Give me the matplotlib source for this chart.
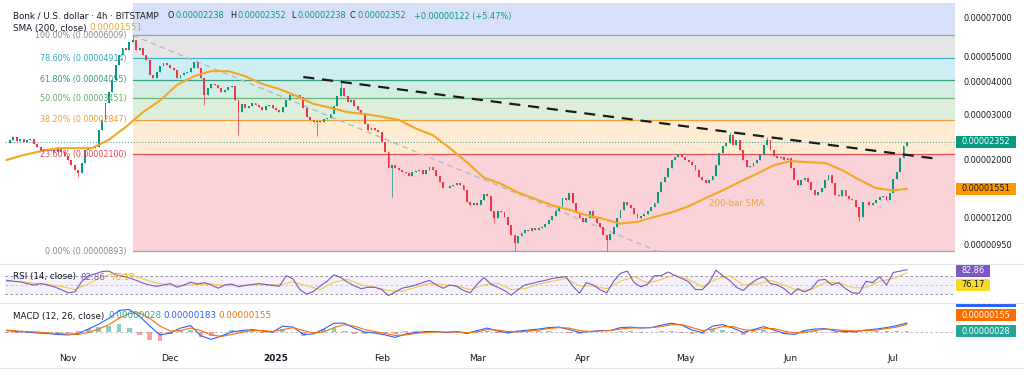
"""Bonk / U.S. dollar 4h chart: fibonacci levels, 200 SMA, RSI and MACD panels."""

import matplotlib
matplotlib.use("Agg")
import matplotlib.dates as mdates
import matplotlib.pyplot as plt
import numpy as np
import pandas as pd
from matplotlib.lines import Line2D
from matplotlib.patches import Rectangle
from matplotlib.ticker import NullLocator
from matplotlib.transforms import Bbox

START = "2024-10-14"

# daily closes, in 1e-5 USD (Oct 14 2024 -> Jul 5 2025)
close_e5 = [
    2.32, 2.39, 2.45, 2.37, 2.41, 2.34, 2.39, 2.41, 2.30, 2.24,
    2.16, 2.20, 2.16, 2.18, 2.14, 2.20, 2.14, 2.07, 2.00, 1.91,
    1.83, 1.78, 1.95, 2.18, 2.24, 2.22, 2.24, 2.61, 2.85, 3.31,
    3.64, 4.05, 4.62, 5.05, 5.38, 5.28, 5.67, 5.77, 5.28, 5.38,
    5.05, 4.83, 4.23, 4.12, 4.34, 4.58, 4.70, 4.62, 4.50, 4.42,
    4.12, 4.23, 4.31, 4.34, 4.50, 4.74, 4.50, 4.12, 3.55, 3.78,
    3.91, 3.88, 3.78, 3.64, 3.71, 3.81, 3.84, 3.40, 3.05, 3.28,
    3.17, 3.22, 3.31, 3.25, 3.20, 3.11, 3.22, 3.25, 3.17, 3.11,
    3.05, 3.20, 3.40, 3.55, 3.52, 3.55, 3.49, 3.17, 2.93, 2.85,
    2.80, 2.82, 2.80, 2.87, 2.90, 3.00, 3.22, 3.52, 3.78, 3.52,
    3.34, 3.40, 3.22, 3.11, 3.03, 2.75, 2.61, 2.66, 2.61, 2.55,
    2.35, 2.14, 1.86, 1.91, 1.86, 1.83, 1.80, 1.78, 1.73, 1.80,
    1.81, 1.83, 1.77, 1.83, 1.88, 1.83, 1.73, 1.64, 1.56, 1.56,
    1.59, 1.60, 1.63, 1.60, 1.53, 1.38, 1.34, 1.37, 1.34, 1.41,
    1.48, 1.46, 1.27, 1.20, 1.27, 1.26, 1.21, 1.13, 1.03, 0.96,
    1.02, 1.05, 1.08, 1.07, 1.10, 1.08, 1.10, 1.11, 1.14, 1.18,
    1.22, 1.28, 1.33, 1.43, 1.41, 1.50, 1.37, 1.26, 1.20, 1.16,
    1.20, 1.27, 1.20, 1.15, 1.11, 1.03, 0.99, 1.04, 1.11, 1.20,
    1.29, 1.38, 1.34, 1.31, 1.24, 1.20, 1.22, 1.24, 1.27, 1.32,
    1.37, 1.51, 1.65, 1.72, 1.86, 2.00, 2.05, 2.11, 2.05, 2.00,
    1.96, 1.91, 1.83, 1.72, 1.68, 1.63, 1.68, 1.73, 1.91, 2.13,
    2.26, 2.32, 2.49, 2.28, 2.39, 2.18, 2.00, 1.88, 1.89, 1.95,
    2.00, 2.09, 2.28, 2.39, 2.18, 2.07, 2.04, 2.05, 2.00, 2.04,
    1.86, 1.68, 1.60, 1.68, 1.71, 1.64, 1.53, 1.47, 1.51, 1.56,
    1.68, 1.75, 1.63, 1.47, 1.46, 1.53, 1.46, 1.42, 1.41, 1.32,
    1.21, 1.38, 1.38, 1.34, 1.37, 1.41, 1.44, 1.46, 1.41, 1.50,
    1.69, 1.80, 2.04, 2.26, 2.352,
]
spike_highs = {"2024-11-20": 6.01, "2025-01-20": 3.99, "2025-05-14": 2.56, "2025-05-25": 2.45}
spike_lows = {
    "2024-11-04": 1.72, "2024-12-11": 3.25, "2024-12-21": 2.49, "2025-01-13": 2.47,
    "2025-02-04": 1.44, "2025-03-06": 1.15, "2025-03-12": 0.90, "2025-04-08": 0.90,
    "2025-06-21": 1.17,
}

# 200-bar SMA every 5 days, plus the last bar (1e-5 USD)
sma_e5 = [
    2.00, 2.09, 2.16, 2.22, 2.22, 2.22, 2.39, 2.68, 3.05, 3.38,
    3.88, 4.19, 4.38, 4.38, 4.19, 3.91, 3.74, 3.52, 3.28, 3.17,
    3.05, 3.00, 2.93, 2.85, 2.64, 2.49, 2.22, 1.96, 1.71, 1.62,
    1.50, 1.42, 1.34, 1.29, 1.23, 1.19, 1.14, 1.16, 1.21, 1.26,
    1.33, 1.43, 1.53, 1.65, 1.77, 1.91, 1.98, 1.96, 1.95, 1.83,
    1.68, 1.56, 1.53, 1.551,
]

# RSI(14) every 2 days, its moving average every 4 days
rsi_vals = [
    60, 58, 57, 53, 50, 53, 50, 46, 40, 33,
    35, 57, 70, 74, 79, 80, 72, 69, 65, 60,
    54, 50, 47, 50, 53, 45, 50, 56, 52, 55,
    50, 43, 50, 52, 46, 49, 51, 53, 51, 49,
    47, 70, 63, 40, 30, 36, 48, 58, 72, 66,
    56, 48, 42, 45, 45, 40, 27, 35, 43, 46,
    50, 55, 60, 50, 43, 50, 47, 38, 33, 52,
    66, 52, 45, 38, 28, 40, 50, 53, 57, 60,
    64, 66, 68, 48, 32, 55, 50, 40, 33, 58,
    75, 80, 55, 46, 52, 70, 70, 78, 70, 64,
    57, 40, 40, 55, 82, 70, 60, 45, 38, 52,
    62, 68, 53, 50, 42, 29, 42, 35, 42, 60,
    62, 50, 55, 42, 33, 32, 58, 55, 68, 50,
    77, 80, 82.86,
]
rsi_ma_vals = [
    58, 57, 54, 51, 47, 40, 52, 68, 75, 72,
    63, 54, 50, 49, 51, 52, 49, 49, 50, 51,
    50, 57, 48, 40, 56, 62, 50, 45, 38, 36,
    45, 53, 51, 48, 40, 50, 54, 40, 42, 52,
    58, 64, 48, 48, 42, 58, 68, 54, 62, 72,
    62, 46, 62, 70, 50, 52, 60, 50, 38, 40,
    55, 55, 44, 44, 58, 64, 76.17,
]

# MACD(12, 26) and signal every 3 days, in 1e-6 USD
macd_e6 = [
    0.3, 0.1, 0.0, -0.2, -0.3, -0.5, -0.6, -0.3, 0.6, 1.6,
    2.8, 4.4, 4.6, 3.2, 1.2, -0.6, -0.2, 0.8, 1.3, -0.8,
    -1.5, -0.8, 0.0, 0.3, 0.5, 0.2, 0.0, 1.2, 1.0, -0.5,
    -0.4, 0.6, 1.8, 1.8, 0.8, 0.0, -0.2, -0.6, -1.1, -0.4,
    -0.1, 0.1, 0.1, -0.1, 0.1, -0.3, 0.3, 0.8, 0.2, -0.2,
    0.2, 0.4, 0.6, 0.9, 1.0, 0.5, -0.1, 0.1, 0.3, 0.3,
    0.9, 1.0, 0.8, 0.9, 1.4, 1.8, 1.4, 0.4, -0.1, 1.2,
    1.5, 0.8, -0.1, 0.5, 1.1, 0.4, -0.3, -0.5, 0.3, 0.6,
    0.7, 0.2, 0.1, 0.1, 0.4, 0.6, 0.9, 1.3, 1.83,
]
signal_e6 = [
    0.4, 0.2, 0.1, 0.0, -0.2, -0.3, -0.4, -0.5, -0.1, 0.6,
    1.5, 2.8, 3.8, 3.9, 2.8, 1.2, 0.2, 0.3, 0.8, 0.3,
    -0.6, -0.9, -0.5, -0.1, 0.3, 0.3, 0.1, 0.5, 0.9, 0.3,
    -0.2, 0.0, 0.9, 1.5, 1.2, 0.5, 0.1, -0.3, -0.7, -0.6,
    -0.3, -0.1, 0.0, 0.0, 0.0, -0.1, 0.0, 0.5, 0.4, 0.1,
    0.0, 0.2, 0.4, 0.7, 0.9, 0.8, 0.3, 0.1, 0.2, 0.3,
    0.6, 0.8, 0.9, 0.9, 1.1, 1.5, 1.5, 0.9, 0.3, 0.6,
    1.1, 1.1, 0.5, 0.3, 0.7, 0.7, 0.2, -0.2, -0.1, 0.3,
    0.6, 0.5, 0.3, 0.2, 0.3, 0.4, 0.7, 1.0, 1.55,
]

# fibonacci retracement drawn from the Nov 20 high to the low
fib_high = 6.009e-5
fib_low = 0.893e-5
fib_start = "2024-11-20"
fib_line_end = "2025-04-23"
fib_levels = [0.0, 0.236, 0.382, 0.5, 0.618, 0.786, 1.0, 1.618]
fib_names = ["0.00%", "23.60%", "38.20%", "50.00%", "61.80%", "78.60%", "100.00%"]

# descending resistance line
trend_dates = ["2025-01-09", "2025-07-14"]
trend_prices = [4.16e-5, 2.02e-5]

price_ticks = [7e-5, 5e-5, 4e-5, 3e-5, 2e-5, 1.2e-5, 0.95e-5]
month_ticks = ["2024-11-01", "2024-12-01", "2025-01-01", "2025-02-01", "2025-03-01",
               "2025-04-01", "2025-05-01", "2025-06-01", "2025-07-01"]
month_labels = ["Nov", "Dec", "2025", "Feb", "Mar", "Apr", "May", "Jun", "Jul"]

last_close = 2.352e-5
last_sma = 1.551e-5

W, H = 1024, 376
TXT = "#131722"
UP, DOWN = "#089981", "#F23645"
line_cols = ["#a0a0a0", "#e0535a", "#f0a23c", "#6cb87a", "#3a9e8f", "#3fb4c8", "#a0a0a0"]
label_cols = ["#8a8a8a", "#e04b53", "#f0a030", "#5faf6a", "#2e9c8a", "#30a9c0", "#8a8a8a"]
fill_cols = ["#f9d3d7", "#fdebd3", "#ddefda", "#d3ece4", "#cdeff3", "#e6e6e9", "#d6e0f8"]

plt.rcParams["font.family"] = "DejaVu Sans"


def fx(px):
    return px / W


def fy(py):
    return 1 - py / H


fig = plt.figure(figsize=(W / 100, H / 100), dpi=100)
fig.patch.set_facecolor("white")
ax = fig.add_axes([fx(5), fy(264), fx(950), 261 / H])
ax_rsi = fig.add_axes([fx(5), fy(303), fx(950), 39 / H], sharex=ax)
ax_macd = fig.add_axes([fx(5), fy(350), fx(950), 47 / H], sharex=ax)

t0 = pd.Timestamp(START)
xlim = (mdates.date2num(t0 - pd.Timedelta(hours=11)), mdates.date2num(t0 + pd.Timedelta(days=278.1)))

# ---- price panel ----
ax.set_yscale("log")
ax.set_xlim(*xlim)
ax.set_ylim(7.99e-6, 7.99e-5)

fib_prices = [fib_low + lv * (fib_high - fib_low) for lv in fib_levels]
xs = mdates.date2num(pd.Timestamp(fib_start))
for k in range(len(fib_levels) - 1):
    ax.fill_between([xs, xlim[1]], fib_prices[k], fib_prices[k + 1],
                    color=fill_cols[k], lw=0, zorder=0)
for k, name in enumerate(fib_names):
    p = fib_prices[k]
    ax.plot([xs, xlim[1]], [p, p], color=line_cols[k], lw=0.9, zorder=1)
    ax.annotate(f"{name} ({p:.8f})", (xs, p), xytext=(-4.3, 0), textcoords="offset points",
                ha="right", va="center", fontsize=5.8, color=label_cols[k], zorder=6)

ax.plot(pd.to_datetime([fib_start, fib_line_end]), [fib_high, fib_low],
        color="#b9b9bd", lw=1.0, ls=(0, (4, 3)), zorder=1.5)
ax.axhline(last_close, color="#3c8f80", lw=0.7, ls=(0, (1, 2)), zorder=2)

dates = pd.date_range(START, periods=len(close_e5), freq="D")
close = np.array(close_e5) * 1e-5
open_ = np.r_[close[0], close[:-1]]
high = np.maximum(open_, close)
low = np.minimum(open_, close)
for d, v in spike_highs.items():
    i = dates.get_loc(pd.Timestamp(d))
    high[i] = max(high[i], v * 1e-5)
for d, v in spike_lows.items():
    i = dates.get_loc(pd.Timestamp(d))
    low[i] = min(low[i], v * 1e-5)
cols = np.where(close >= open_, UP, DOWN)
xd = mdates.date2num(dates)
ax.vlines(xd, low, high, colors=cols, lw=0.5, zorder=3)
ax.bar(xd, np.abs(close - open_), bottom=np.minimum(open_, close), width=0.55,
       color=cols, lw=0, zorder=3)

sma_dates = pd.date_range(START, periods=len(sma_e5) - 1, freq="5D").append(pd.DatetimeIndex([dates[-1]]))
ax.plot(sma_dates, np.array(sma_e5) * 1e-5, color="#F5A623", lw=1.5, zorder=4,
        solid_capstyle="round", solid_joinstyle="round")
ax.text(pd.Timestamp("2025-05-16"), 1.367e-5, "200-bar SMA", color="#F5A623",
        fontsize=6.2, ha="center", va="center", zorder=6)

ax.plot(pd.to_datetime(trend_dates), trend_prices, color="#1c1c1c", lw=1.6,
        ls=(0, (5, 3.5)), zorder=5)

ax.yaxis.tick_right()
ax.set_yticks(price_ticks)
ax.set_yticklabels([f"{v:.8f}" for v in price_ticks])
ax.yaxis.set_minor_locator(NullLocator())
ax.tick_params(axis="y", length=0, pad=5.8, labelsize=5.9, labelcolor=TXT)
ax.tick_params(axis="x", length=0, labelbottom=False)

# ---- RSI panel ----
rsi_dates = pd.date_range(START, periods=len(rsi_vals), freq="2D")
rsi_ma_dates = pd.date_range(START, periods=len(rsi_ma_vals), freq="4D")
ax_rsi.set_ylim(11.0, 95.3)
ax_rsi.axhspan(30, 70, color="#7E57C2", alpha=0.08, lw=0)
for lv, a in [(70, 0.9), (50, 0.45), (30, 0.9)]:
    ax_rsi.axhline(lv, color="#787B86", lw=0.6, ls=(0, (3, 3)), alpha=a)
ax_rsi.plot(rsi_ma_dates, rsi_ma_vals, color="#F7C948", lw=0.8)
ax_rsi.plot(rsi_dates, rsi_vals, color="#7E57C2", lw=0.8)
ax_rsi.set_yticks([])
ax_rsi.tick_params(axis="x", length=0, labelbottom=False)

# ---- MACD panel ----
macd_dates = pd.date_range(START, periods=len(macd_e6), freq="3D")
macd = np.array(macd_e6) * 1e-6
signal = np.array(signal_e6) * 1e-6
hist = macd - signal
ax_macd.set_ylim(-3.67e-6, 5.92e-6)
ax_macd.axhline(0, color="#787B86", lw=0.6, ls=(0, (3, 3)), alpha=0.6)
ax_macd.bar(macd_dates, hist, width=1.4, color=np.where(hist >= 0, "#26A69A", "#FF5252"),
            alpha=0.55, lw=0)
ax_macd.plot(macd_dates, macd, color="#2962FF", lw=0.8)
ax_macd.plot(macd_dates, signal, color="#FF6D00", lw=0.8)
ax_macd.set_yticks([])
ax_macd.set_xticks(pd.to_datetime(month_ticks))
ax_macd.set_xticklabels(month_labels)
ax_macd.tick_params(axis="x", length=0, pad=3.2, labelsize=6.5, labelcolor=TXT)
for lbl in ax_macd.get_xticklabels():
    if lbl.get_text() == "2025":
        lbl.set_fontweight("bold")

for a in (ax, ax_rsi, ax_macd):
    for s in a.spines.values():
        s.set_visible(False)
    a.set_facecolor("none")

for py in (264, 303, 368):
    fig.add_artist(Line2D([0, 1], [fy(py), fy(py)], transform=fig.transFigure,
                          color="#E0E3EB", lw=0.8))


# ---- right-side value badges ----
def badge(axis, value, text, bg, fg, dy=0.0, width=60, clip_top=None):
    yc = H - axis.transData.transform((xlim[0], value))[1] + dy
    rect = Rectangle((fx(956), fy(yc + 6)), fx(width), 12 / H, transform=fig.transFigure,
                     facecolor=bg, edgecolor="none")
    fig.add_artist(rect)
    t = fig.text(fx(956 + width / 2), fy(yc), text, ha="center", va="center",
                 fontsize=5.9, color=fg)
    if clip_top is not None:
        box = Bbox.from_extents(0, 0, W, H - clip_top)
        rect.set_clip_box(box)
        t.set_clip_box(box)
        t.set_clip_on(True)


badge(ax, last_close, f"{last_close:.8f}", "#089981", "white")
badge(ax, last_sma, f"{last_sma:.8f}", "#FF9800", TXT)
badge(ax_rsi, rsi_vals[-1], f"{rsi_vals[-1]:.2f}", "#7E57C2", "white", dy=1.0, width=34)
badge(ax_rsi, rsi_ma_vals[-1], f"{rsi_ma_vals[-1]:.2f}", "#F9D923", TXT, dy=12.0, width=34)
badge(ax_macd, macd[-1], f"{macd[-1]:.8f}", "#2962FF", "white", dy=-22.0, clip_top=303)
badge(ax_macd, signal[-1], f"{signal[-1]:.8f}", "#FF6D00", "white", dy=-9.0)
badge(ax_macd, hist[-1], f"{hist[-1]:.8f}", "#26A69A", "white", dy=0.5)


# ---- legends ----
def ftext(px, py, s, color=TXT, size=6.3, **kw):
    fig.text(fx(px), fy(py), s, ha="left", va="center", fontsize=size, color=color, **kw)


ftext(13, 16, "Bonk / U.S. dollar · 4h · BITSTAMP")
for letter, lx, val in [("O", 168, 2.238e-5), ("H", 230, 2.352e-5),
                        ("L", 291, 2.238e-5), ("C", 350, 2.352e-5)]:
    ftext(lx, 16, letter, size=5.9)
    ftext(lx + 7, 16, f"{val:.8f}", color=UP, size=5.9)
ftext(414, 16, "+0.00000122 (+5.47%)", color=UP, size=5.9)
ftext(13, 28, "SMA (200, close)")
ftext(89, 28, f"{last_sma:.8f}", color="#F5A623")

ftext(13, 277, "RSI (14, close)")
ftext(80, 277, f"{rsi_vals[-1]:.2f}", color="#7E57C2")
ftext(110, 277, f"{rsi_ma_vals[-1]:.2f}", color="#E8B90F")

ftext(13, 316, "MACD (12, 26, close)")
ftext(108, 316, f"{hist[-1]:.8f}", color="#26A69A")
ftext(163, 316, f"{macd[-1]:.8f}", color="#2962FF")
ftext(218, 316, f"{signal[-1]:.8f}", color="#FF6D00")

fig.savefig("out.png", dpi=100)
